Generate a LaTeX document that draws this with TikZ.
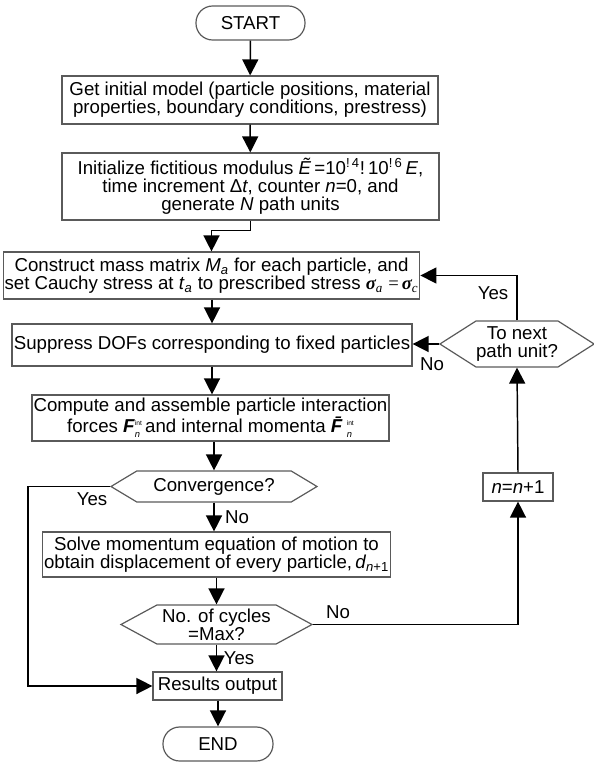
\documentclass[tikz,border=0pt]{standalone}
\usepackage{fontspec}
\setmainfont{Liberation Sans}
\newfontfamily\sigmafont{Liberation Serif}
\definecolor{FrameGray}{HTML}{5A5A5A}
\usetikzlibrary{arrows.meta, shapes.symbols}
\newcommand{\flowfont}{\fontsize{14}{13.5}\selectfont}
\newcommand{\subsupint}[1]{\rlap{\raisebox{-0.55ex}{\scriptsize\itshape #1}}\raisebox{0.75ex}{\tiny int}}
\tikzset{
  procbox/.style={draw=FrameGray, line width=0.9pt, align=center, inner sep=1pt, font=\flowfont},
  termbox/.style={procbox, rounded corners=12.5pt},
  decision/.style={draw=FrameGray, line width=0.9pt, align=center, inner sep=0pt, signal, signal to=east and west, font=\flowfont},
  flowarrow/.style={-{Triangle[length=12pt, width=12pt]}, line width=1.1pt},
  flowline/.style={line width=1.1pt},
  tag/.style={inner sep=0pt, font=\flowfont}
}

\begin{document}
\begin{tikzpicture}[x=0.75pt, y=-0.75pt]
\useasboundingbox (0,0) rectangle (593,763);

\node[termbox, minimum width=81.75pt, minimum height=25.5pt] (start) at (250.5,23) {START};
\node[procbox, minimum width=282pt, minimum height=36pt] (model) at (250,100)
  {Get initial model (particle positions, material\\ properties, boundary conditions, prestress)};
\node[procbox, minimum width=282.75pt, minimum height=50.25pt] (init) at (250.5,186.5)
  {Initialize fictitious modulus \textit{Ẽ}\,=10\textsuperscript{!\,4}!\,10\textsuperscript{!\,6}\,\textit{E},\\
   time increment Δ\textit{t}, counter \textit{n}=0, and\\ generate \textit{N} path units};
\node[procbox, minimum width=306.75pt, minimum height=35.25pt] (mass) at (211.5,275.5)
  {Construct mass matrix \textit{M}\textsubscript{\textit{a}} for each particle, and\\
   set Cauchy stress at \textit{t}\textsubscript{\textit{a}} to prescribed stress
   {\sigmafont\bfseries\itshape σ}\textsubscript{\sigmafont\itshape a}\;{\sigmafont =}\,{\sigmafont\bfseries\itshape σ}\textsubscript{\sigmafont\itshape c}};
\node[procbox, minimum width=300pt, minimum height=31.5pt] (dof) at (212,345)
  {Suppress DOFs corresponding to fixed particles};
\node[procbox, minimum width=267.75pt, minimum height=34.5pt] (force) at (210.5,418)
  {Compute and assemble particle interaction\\
   forces \textbf{\textit{F}}\subsupint{n}\,and internal momenta \textbf{\textit{F̄}}\subsupint{n}};
\node[decision, minimum width=154.5pt, minimum height=23.25pt, signal pointer angle=62] (conv) at (214,486.5) {Convergence?};
\node[procbox, minimum width=260.25pt, minimum height=33.75pt] (solve) at (216.5,554.5)
  {Solve momentum equation of motion to\\
   obtain displacement of every particle,\,\textit{d}\textsubscript{\textit{n}+1}};
\node[decision, minimum width=143.25pt, minimum height=29.25pt, signal pointer angle=57] (cycles) at (216.5,624.5) {No. of cycles\\ =Max?};
\node[procbox, minimum width=96.75pt, minimum height=21pt] (result) at (217.5,686) {Results output};
\node[termbox, minimum width=82.5pt, minimum height=25.5pt] (end) at (218,744) {END};
\node[decision, minimum width=112pt, minimum height=34.5pt, signal pointer angle=65] (next) at (517,344) {To next\\ path unit?};
\node[procbox, minimum width=52.5pt, minimum height=21pt] (incr) at (518,487) {\textit{n}=\textit{n}+1};

\coordinate (yesbend) at (28,486.5);

% main column
\draw[flowarrow] (start) -- (model);
\draw[flowarrow] (model) -- (init);
\draw[flowarrow] (init.south) -- ++(0,10) -| (mass.north);
\draw[flowarrow] (mass.south -| dof.north) -- (dof.north);
\draw[flowarrow] (dof.south) -- (dof.south |- force.north);
\draw[flowarrow] (conv.north |- force.south) -- (conv.north);
\draw[flowarrow] (conv.south) -- (conv.south |- solve.north);
\draw[flowarrow] (solve.south) -- (cycles.north);
\draw[flowarrow] (cycles.south) -- (cycles.south |- result.north);
\draw[flowarrow] (result.south -| end.north) -- (end.north);

% loops
\draw[flowarrow] (conv.west) -- (yesbend) |- (result.west);
\draw[flowarrow] (cycles.east) -| (incr.south);
\draw[flowarrow] (incr.north) -- (next.south);
\draw[flowarrow] (next.north) |- (mass.east);
\draw[flowarrow] (next.west) -- (next.west -| dof.east);

\node[tag] (yes1) at (493,293) {Yes};
\node[tag] (no1) at (432,364) {No};
\node[tag] (yes2) at (92,499) {Yes};
\node[tag] (no2) at (237,517) {No};
\node[tag] (no3) at (338,612) {No};
\node[tag] (yes3) at (239,658) {Yes};
\end{tikzpicture}
\end{document}
